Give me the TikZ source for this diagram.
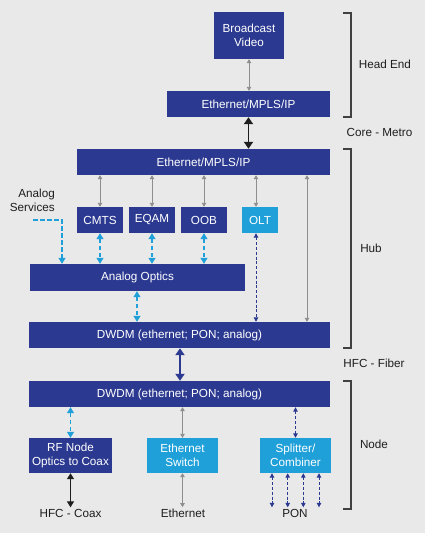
\documentclass[tikz,border=0pt]{standalone}
\usepackage{fontspec}
\setmainfont{Liberation Sans}
\usetikzlibrary{arrows.meta}
\definecolor{bgc}{HTML}{E9E9EA}
\definecolor{dkblue}{HTML}{2B3990}
\definecolor{ltblue}{HTML}{1FA0D9}
\definecolor{grayarr}{HTML}{8E8E8E}
\definecolor{txtc}{HTML}{1E1E1E}
\begin{document}
\begin{tikzpicture}[x=1pt,y=-1pt,
  base/.style={draw=none, text=white, font=\fontsize{11.7}{13.7}\selectfont, inner sep=0pt, align=center},
  dbox/.style={base, fill=dkblue},
  lbox/.style={base, fill=ltblue},
  lbl/.style={text=txtc, font=\fontsize{11.7}{13.7}\selectfont, align=center},
  grayline/.style={draw=grayarr, line width=0.9pt, {Triangle[width=4.5pt,length=4pt]}-{Triangle[width=4.5pt,length=4pt]}},
  ltdash/.style={draw=ltblue, line width=1.1pt, dash pattern=on 4.5pt off 2.5pt, {Triangle[width=7pt,length=6pt]}-{Triangle[width=7pt,length=6pt]}},
  ltdashone/.style={draw=ltblue, line width=1.1pt, dash pattern=on 4.5pt off 2.5pt, -{Triangle[width=7pt,length=6pt]}},
  dkdash/.style={draw=dkblue, line width=1pt, dash pattern=on 3pt off 1.8pt, {Triangle[width=4.5pt,length=4.5pt]}-{Triangle[width=4.5pt,length=4.5pt]}},
  thickarr/.style={line width=1.8pt, {Triangle[width=9pt,length=7pt]}-{Triangle[width=9pt,length=7pt]}},
  brk/.style={draw=txtc!85, line width=1.1pt}
]
\fill[bgc] (0,0) rectangle (425,533);
\useasboundingbox (0,0) rectangle (425,533);

% boxes
\node[dbox, minimum width=70pt, minimum height=47pt] (bv) at (249,35.5) {Broadcast\\Video};
\node[dbox, minimum width=163pt, minimum height=26pt] (eth1) at (248.5,104) {Ethernet/MPLS/IP};
\node[dbox, minimum width=253pt, minimum height=26pt] (eth2) at (203.5,162) {Ethernet/MPLS/IP};
\node[dbox, minimum width=46pt, minimum height=26pt] (cmts) at (100,220) {CMTS};
\node[dbox, minimum width=46pt, minimum height=26pt] (eqam) at (152,220) {EQAM};
\node[dbox, minimum width=46pt, minimum height=26pt] (oob) at (204,220) {OOB};
\node[lbox, minimum width=36pt, minimum height=26pt] (olt) at (260,220) {OLT};
\node[dbox, minimum width=215pt, minimum height=27pt] (ao) at (137.5,277.5) {Analog Optics};
\node[dbox, minimum width=301pt, minimum height=26pt] (dw1) at (179.5,335) {DWDM (ethernet; PON; analog)};
\node[dbox, minimum width=301pt, minimum height=26pt] (dw2) at (179.5,394) {DWDM (ethernet; PON; analog)};
\node[dbox, minimum width=83pt, minimum height=35pt] (rf) at (70.5,455.5) {RF Node\\Optics to Coax};
\node[lbox, minimum width=71pt, minimum height=35pt] (es) at (182.5,455.5) {Ethernet\\Switch};
\node[lbox, minimum width=71pt, minimum height=35pt] (sc) at (295.5,455.5) {Splitter/\\Combiner};

% labels
\node[lbl, anchor=east, align=right, inner sep=0pt] (asv) at (55,200) {Analog\\Services};
\node[lbl] (he) at (385,64) {Head End};
\node[lbl] (cm) at (379.5,132) {Core - Metro};
\node[lbl] (hub) at (371,248) {Hub};
\node[lbl] (hf) at (374,363) {HFC - Fiber};
\node[lbl] (nd) at (374,444) {Node};
\node[lbl] (coax) at (70.5,513) {HFC - Coax};
\node[lbl] (ethl) at (183,513) {Ethernet};
\node[lbl] (pon) at (295,513) {PON};

% coordinates
\coordinate (c62) at (62,0);
\coordinate (c307) at (307,0);
\coordinate (c137) at (137,0);
\coordinate (c180) at (180,0);
\coordinate (as) at (33,220);

% connectors
\draw[grayline] (bv.south) -- (bv.south |- eth1.north);
\draw[thickarr, draw=txtc] (eth1.south) -- (eth1.south |- eth2.north);
\draw[grayline] (cmts.north |- eth2.south) -- (cmts.north);
\draw[grayline] (eqam.north |- eth2.south) -- (eqam.north);
\draw[grayline] (oob.north |- eth2.south) -- (oob.north);
\draw[grayline] ([xshift=-4pt]olt.north |- eth2.south) -- ([xshift=-4pt]olt.north);
\draw[grayline] (eth2.south -| c307) -- (dw1.north -| c307);
\draw[ltdash] (cmts.south) -- (cmts.south |- ao.north);
\draw[ltdash] (eqam.south) -- (eqam.south |- ao.north);
\draw[ltdash] (oob.south) -- (oob.south |- ao.north);
\draw[ltdashone] (as) -| (ao.north -| c62);
\draw[dkdash] ([xshift=-4pt]olt.south) -- ([xshift=-4pt]olt.south |- dw1.north);
\draw[ltdash] (ao.south -| c137) -- (dw1.north -| c137);
\draw[thickarr, draw=dkblue, fill=dkblue] (dw1.south -| c180) -- (dw2.north -| c180);
\draw[ltdash] (rf.north |- dw2.south) -- (rf.north);
\draw[grayline] (es.north |- dw2.south) -- (es.north);
\draw[dkdash] (sc.north |- dw2.south) -- (sc.north);
\draw[thickarr, line width=1.3pt, draw=txtc, {Triangle[width=7pt,length=6pt]}-{Triangle[width=7pt,length=6pt]}] (rf.south) -- ([yshift=-2pt]rf.south |- coax.north);
\draw[grayline] (es.south) -- ([yshift=-2pt]es.south |- ethl.north);
\foreach \dx in {-23.5,-7.8,7.8,23.5}{
  \draw[dkdash] ([xshift=\dx pt]sc.south) -- ([xshift=\dx pt, yshift=-2pt]sc.south |- pon.north);
}

% brackets
\draw[brk] (343,13) -- (351,13) -- (351,117) -- (343,117);
\draw[brk] (343,149) -- (351,149) -- (351,348) -- (343,348);
\draw[brk] (343,381) -- (351,381) -- (351,509) -- (343,509);
\end{tikzpicture}
\end{document}
